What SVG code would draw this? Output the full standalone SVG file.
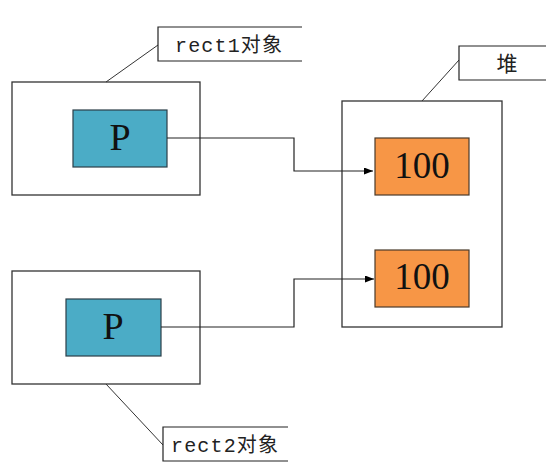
<svg xmlns="http://www.w3.org/2000/svg" width="546" height="466" viewBox="0 0 546 466">
<style>
.box{fill:#fff;stroke:#333;stroke-width:1.3}
.p{fill:#4bacc6;stroke:#2c3e48;stroke-width:1.2}
.v{fill:#f79646;stroke:#4a3a2a;stroke-width:1.2}
.lbl{fill:#fff;stroke:#222;stroke-width:1.2}
.lead{fill:none;stroke:#333;stroke-width:1}
.conn{fill:none;stroke:#222;stroke-width:1.2}
.big{font-family:"Liberation Serif","Noto Sans CJK SC",serif;fill:#111;text-anchor:middle}
.t{font-family:"Liberation Mono","Noto Sans CJK SC",monospace;font-size:20px;fill:#222}
</style>
<defs>
<marker id="arr" markerWidth="9" markerHeight="7" refX="9" refY="3.5" orient="auto" markerUnits="userSpaceOnUse">
<path d="M0,0 L9,3.5 L0,7 z" fill="#000"/>
</marker>
</defs>
<g id="rect1">
<rect class="box" x="12" y="82" width="188" height="113"/>
<rect class="p" x="73" y="110" width="94" height="57"/>
<text class="big" x="120" y="150" font-size="38">P</text>
</g>
<g id="rect1-label">
<line class="lead" x1="158" y1="45" x2="106" y2="82"/>
<path class="lbl" d="M302,27 H158 V61 H302"/>
<text class="t" x="175" y="52" textLength="107" lengthAdjust="spacing">rect1对象</text>
</g>
<g id="rect2">
<rect class="box" x="12" y="271" width="188" height="113"/>
<rect class="p" x="66" y="299" width="95" height="57"/>
<text class="big" x="113" y="339" font-size="38">P</text>
</g>
<g id="rect2-label">
<line class="lead" x1="106" y1="384" x2="163" y2="445"/>
<path class="lbl" d="M288,427 H163 V461 H288"/>
<text class="t" x="171" y="452" textLength="107" lengthAdjust="spacing">rect2对象</text>
</g>
<g id="heap">
<rect class="box" x="342" y="101" width="160" height="226"/>
</g>
<g id="heap-label">
<line class="lead" x1="459" y1="60" x2="422" y2="101"/>
<path class="lbl" d="M546,46 H459 V80 H546"/>
<text x="507" y="71" font-family="'Noto Sans CJK SC',sans-serif" font-size="21" fill="#222" text-anchor="middle">堆</text>
</g>
<g id="value1">
<rect class="v" x="375" y="138" width="94" height="57"/>
<text class="big" x="422" y="178" font-size="37">100</text>
</g>
<g id="value2">
<rect class="v" x="375" y="250" width="94" height="57"/>
<text class="big" x="422" y="289" font-size="37">100</text>
</g>
<g id="connectors">
<path class="conn" d="M167,138 H294 V171 H373" marker-end="url(#arr)"/>
<path class="conn" d="M161,327 H294 V279 H374" marker-end="url(#arr)"/>
</g>
</svg>
